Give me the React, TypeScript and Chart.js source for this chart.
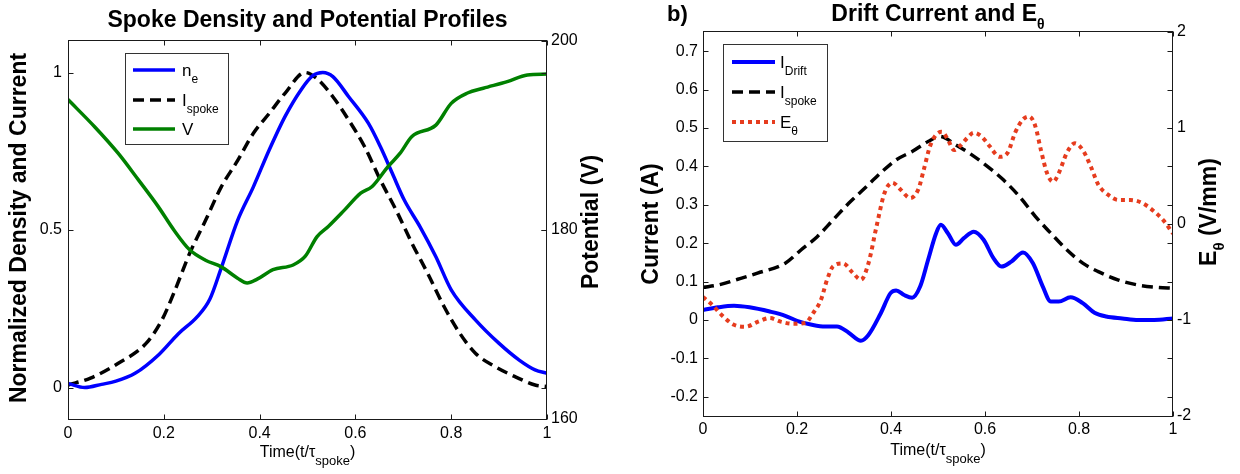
import React, { useEffect, useRef } from "react";
import { Chart, registerables } from "chart.js";

Chart.register(...registerables);

const FONT = "'Liberation Sans', Arial, Helvetica, sans-serif";
const AXIS = "#1a1a1a";
const BLUE = "#0000ff";
const BLACK = "#000000";
const GREEN = "#008000";
const RED = "#e63c1e";

// ---------- Panel a: Spoke Density and Potential Profiles ----------
const neTime = [0, 0.035, 0.07, 0.1, 0.14, 0.19, 0.23, 0.27, 0.296, 0.32, 0.354, 0.387, 0.42, 0.453, 0.486, 0.511, 0.532, 0.553, 0.586, 0.627, 0.652, 0.677, 0.702, 0.735, 0.768, 0.8, 0.851, 0.9, 0.942, 0.975, 1];
const neValues = [0.013, 0.0, 0.01, 0.02, 0.045, 0.105, 0.17, 0.225, 0.28, 0.38, 0.53, 0.637, 0.754, 0.86, 0.944, 0.99, 1.0, 0.987, 0.923, 0.839, 0.765, 0.68, 0.595, 0.51, 0.415, 0.31, 0.214, 0.14, 0.087, 0.056, 0.045];

const spokeTimeA = [0, 0.047, 0.105, 0.163, 0.196, 0.221, 0.254, 0.287, 0.32, 0.354, 0.387, 0.42, 0.453, 0.495, 0.52, 0.553, 0.586, 0.619, 0.652, 0.685, 0.718, 0.751, 0.785, 0.818, 0.851, 0.892, 0.934, 0.975, 1];
const spokeValuesA = [0.008, 0.03, 0.077, 0.14, 0.214, 0.3, 0.426, 0.53, 0.637, 0.72, 0.807, 0.87, 0.934, 1.0, 0.98, 0.923, 0.849, 0.765, 0.659, 0.563, 0.458, 0.362, 0.257, 0.172, 0.108, 0.066, 0.034, 0.008, 0.003];

const potentialTime = [0, 0.056, 0.105, 0.147, 0.188, 0.221, 0.254, 0.287, 0.32, 0.354, 0.374, 0.395, 0.428, 0.47, 0.495, 0.52, 0.544, 0.577, 0.611, 0.635, 0.668, 0.693, 0.718, 0.768, 0.8, 0.834, 0.867, 0.917, 0.959, 1];
const potentialValues = [193.8, 190.9, 188.1, 185.3, 182.5, 180.0, 177.9, 176.8, 176.1, 174.9, 174.4, 174.8, 175.8, 176.3, 177.2, 179.3, 180.4, 182.1, 183.9, 184.6, 186.7, 188.1, 189.9, 191.1, 193.4, 194.5, 195.0, 195.7, 196.4, 196.5];

// ---------- Panel b: Drift Current and E_theta ----------
const driftTime = [0, 0.032, 0.066, 0.099, 0.142, 0.175, 0.2, 0.234, 0.26, 0.285, 0.31, 0.336, 0.352, 0.378, 0.399, 0.411, 0.428, 0.445, 0.462, 0.479, 0.496, 0.506, 0.521, 0.538, 0.555, 0.576, 0.597, 0.618, 0.635, 0.656, 0.681, 0.702, 0.723, 0.74, 0.757, 0.782, 0.808, 0.833, 0.858, 0.892, 0.926, 0.96, 1];
const driftValues = [0.026, 0.033, 0.037, 0.033, 0.022, 0.011, -0.002, -0.013, -0.017, -0.017, -0.033, -0.054, -0.039, 0.017, 0.07, 0.077, 0.065, 0.058, 0.087, 0.157, 0.226, 0.248, 0.226, 0.196, 0.213, 0.23, 0.209, 0.161, 0.139, 0.152, 0.176, 0.148, 0.087, 0.048, 0.048, 0.059, 0.044, 0.019, 0.009, 0.004, 0.0, 0.0, 0.004];

const spokeTimeB = [0, 0.032, 0.074, 0.116, 0.175, 0.209, 0.243, 0.277, 0.31, 0.344, 0.378, 0.411, 0.445, 0.479, 0.504, 0.538, 0.572, 0.605, 0.639, 0.673, 0.707, 0.74, 0.774, 0.808, 0.841, 0.884, 0.926, 0.968, 1];
const spokeValuesB = [0.085, 0.091, 0.106, 0.122, 0.148, 0.183, 0.217, 0.261, 0.304, 0.343, 0.383, 0.417, 0.439, 0.465, 0.478, 0.456, 0.43, 0.4, 0.365, 0.322, 0.27, 0.226, 0.183, 0.148, 0.126, 0.104, 0.091, 0.085, 0.083];

const fieldTime = [0, 0.019, 0.04, 0.066, 0.091, 0.116, 0.142, 0.167, 0.192, 0.218, 0.234, 0.251, 0.264, 0.277, 0.298, 0.319, 0.336, 0.352, 0.369, 0.386, 0.403, 0.42, 0.441, 0.458, 0.47, 0.483, 0.496, 0.508, 0.521, 0.534, 0.546, 0.563, 0.576, 0.593, 0.61, 0.631, 0.648, 0.664, 0.681, 0.694, 0.707, 0.719, 0.732, 0.745, 0.757, 0.774, 0.791, 0.808, 0.825, 0.841, 0.863, 0.884, 0.909, 0.934, 0.96, 0.981, 1];
const fieldValues = [-0.76, -0.84, -0.95, -1.05, -1.07, -1.02, -0.98, -1.02, -1.04, -1.03, -0.93, -0.79, -0.58, -0.44, -0.41, -0.51, -0.58, -0.41, -0.03, 0.32, 0.43, 0.36, 0.27, 0.36, 0.57, 0.81, 0.93, 0.96, 0.88, 0.77, 0.81, 0.9, 0.95, 0.91, 0.81, 0.7, 0.74, 0.95, 1.09, 1.12, 1.02, 0.77, 0.53, 0.44, 0.53, 0.74, 0.84, 0.77, 0.6, 0.41, 0.3, 0.25, 0.25, 0.22, 0.13, 0.03, -0.1];

// ---------- Tick labels ----------
const timeTicks = [0, 0.2, 0.4, 0.6, 0.8, 1];
const densityTicks = [0, 0.5, 1];
const potentialTicks = [160, 180, 200];
const currentTicks = [-0.2, -0.1, 0, 0.1, 0.2, 0.3, 0.4, 0.5, 0.6, 0.7];
const fieldTicks = [-2, -1, 0, 1, 2];

const toPoints = (ts: number[], vs: number[]) => ts.map((t, i) => ({ x: t, y: vs[i] }));

type Part = { t: string; sub?: boolean };
type RichOpts = { size: number; subSize: number; subDy: number; weight?: string; align?: "left" | "center" };

function drawRich(ctx: CanvasRenderingContext2D, parts: Part[], x: number, y: number, o: RichOpts) {
  const w = o.weight || "normal";
  const fontOf = (p: Part) => `${w} ${p.sub ? o.subSize : o.size}px ${FONT}`;
  let total = 0;
  for (const p of parts) {
    ctx.font = fontOf(p);
    total += ctx.measureText(p.t).width;
  }
  let cx = o.align === "center" ? x - total / 2 : x;
  ctx.textAlign = "left";
  ctx.textBaseline = "alphabetic";
  ctx.fillStyle = "#000";
  for (const p of parts) {
    ctx.font = fontOf(p);
    ctx.fillText(p.t, cx, y + (p.sub ? o.subDy : 0));
    cx += ctx.measureText(p.t).width;
  }
}

function drawVertical(ctx: CanvasRenderingContext2D, parts: Part[], baselineX: number, cy: number, o: RichOpts) {
  ctx.save();
  ctx.translate(baselineX, cy);
  ctx.rotate(-Math.PI / 2);
  drawRich(ctx, parts, 0, 0, { ...o, align: "center" });
  ctx.restore();
}

type LegendRow = { y: number; color: string; dash: number[]; width: number; parts: Part[] };
type Deco = {
  title: Part[];
  titleY: number;
  tag?: { t: string; x: number; y: number };
  xLabelY: number;
  leftLabel: Part[];
  leftLabelX: number;
  leftLabelY: number;
  rightLabel: Part[];
  rightLabelX: number;
  rightLabelY: number;
  legendBox: [number, number, number, number];
  legendLine: [number, number];
  legendTextX: number;
  legendRows: LegendRow[];
  leftTicks: number[];
  rightTicks: number[];
};

function decoPlugin(d: Deco) {
  return {
    id: "deco",
    afterDraw(chart: any) {
      const ctx: CanvasRenderingContext2D = chart.ctx;
      const a = chart.chartArea;
      const xs = chart.scales.x;
      const ys = chart.scales.y;
      const y2 = chart.scales.y2;
      const L = a.left + 0.5;
      const R = a.right - 0.5;
      const T = a.top - 0.5;
      const B = a.bottom + 0.5;
      ctx.save();
      // box and inward ticks
      ctx.strokeStyle = AXIS;
      ctx.lineWidth = 1;
      ctx.setLineDash([]);
      ctx.beginPath();
      for (const v of timeTicks) {
        const px = Math.round(xs.getPixelForValue(v)) + 0.5;
        ctx.moveTo(px, B);
        ctx.lineTo(px, B - 5);
        ctx.moveTo(px, T);
        ctx.lineTo(px, T + 5);
      }
      for (const v of d.leftTicks) {
        const py = Math.round(ys.getPixelForValue(v)) + 0.5;
        ctx.moveTo(L, py);
        ctx.lineTo(L + 5, py);
        ctx.moveTo(R, py);
        ctx.lineTo(R - 5, py);
      }
      for (const v of d.rightTicks) {
        const py = Math.round(y2.getPixelForValue(v)) + 0.5;
        ctx.moveTo(R, py);
        ctx.lineTo(R - 5, py);
      }
      ctx.stroke();
      ctx.strokeRect(L, T, R - L, B - T);

      // legend
      const [bx1, by1, bx2, by2] = d.legendBox;
      ctx.fillStyle = "#fff";
      ctx.fillRect(bx1, by1, bx2 - bx1, by2 - by1);
      ctx.strokeStyle = "#333";
      ctx.lineWidth = 1;
      ctx.strokeRect(bx1 + 0.5, by1 + 0.5, bx2 - bx1, by2 - by1);
      for (const row of d.legendRows) {
        ctx.beginPath();
        ctx.setLineDash(row.dash);
        ctx.lineWidth = row.width;
        ctx.strokeStyle = row.color;
        ctx.lineCap = "butt";
        ctx.moveTo(d.legendLine[0], row.y);
        ctx.lineTo(d.legendLine[1], row.y);
        ctx.stroke();
        ctx.setLineDash([]);
        drawRich(ctx, row.parts, d.legendTextX, row.y + 6, { size: 17, subSize: 12, subDy: 7 });
      }

      // titles and labels
      drawRich(ctx, d.title, (a.left + a.right) / 2, d.titleY, { size: 23, subSize: 14, subDy: 8, weight: "bold", align: "center" });
      if (d.tag) drawRich(ctx, [{ t: d.tag.t }], d.tag.x, d.tag.y, { size: 22, subSize: 14, subDy: 8, weight: "bold" });
      drawRich(ctx, [{ t: "Time(t/τ" }, { t: "spoke", sub: true }, { t: ")" }], (a.left + a.right) / 2, d.xLabelY, { size: 16, subSize: 13, subDy: 8, align: "center" });
      drawVertical(ctx, d.leftLabel, d.leftLabelX, d.leftLabelY, { size: 23, subSize: 15, subDy: 8, weight: "bold" });
      drawVertical(ctx, d.rightLabel, d.rightLabelX, d.rightLabelY, { size: 23, subSize: 15, subDy: 8, weight: "bold" });
      ctx.restore();
    },
  };
}

function axisOpts(pos: "left" | "right" | "bottom", min: number, max: number, ticks: number[], size: number, pad: number) {
  return {
    type: "linear" as const,
    position: pos,
    min,
    max,
    afterFit: (s: any) => {
      if (pos === "bottom") s.height = size;
      else s.width = size;
    },
    afterBuildTicks: (s: any) => {
      s.ticks = ticks.map((v) => ({ value: v }));
    },
    ticks: {
      autoSkip: false,
      maxRotation: 0,
      minRotation: 0,
      padding: pad,
      color: "#000",
      font: { family: FONT, size: 16 },
      callback: (v: any) => String(v),
    },
    grid: { display: false, drawTicks: false, drawOnChartArea: false },
    border: { display: false },
  };
}

function line(data: { x: number; y: number }[], color: string, width: number, dash: number[], axis: string) {
  return {
    data,
    borderColor: color,
    backgroundColor: color,
    borderWidth: width,
    borderDash: dash,
    pointRadius: 0,
    fill: false,
    cubicInterpolationMode: "monotone" as const,
    yAxisID: axis,
  };
}

export default function App() {
  const leftRef = useRef<HTMLCanvasElement>(null);
  const rightRef = useRef<HTMLCanvasElement>(null);

  useEffect(() => {
    const common = {
      animation: false as const,
      responsive: false,
      maintainAspectRatio: false,
      plugins: { legend: { display: false }, tooltip: { enabled: false }, title: { display: false } },
      events: [] as any[],
    };

    const left = new Chart(leftRef.current!, {
      type: "line",
      data: {
        datasets: [
          line(toPoints(potentialTime, potentialValues), GREEN, 3.5, [], "y2"),
          line(toPoints(neTime, neValues), BLUE, 3.5, [], "y"),
          line(toPoints(spokeTimeA, spokeValuesA), BLACK, 3.5, [11, 6], "y"),
        ],
      },
      options: {
        ...common,
        layout: { padding: { top: 41, left: 0, right: 0, bottom: 0 } },
        scales: {
          x: axisOpts("bottom", 0, 1, timeTicks, 55, 5),
          y: axisOpts("left", -0.1, 1.1, densityTicks, 68, 6),
          y2: axisOpts("right", 160, 200, potentialTicks, 73, 4),
        },
      } as any,
      plugins: [
        decoPlugin({
          title: [{ t: "Spoke Density and Potential Profiles" }],
          titleY: 27,
          xLabelY: 456.5,
          leftLabel: [{ t: "Normalized Density and Current" }],
          leftLabelX: 26,
          leftLabelY: 228,
          rightLabel: [{ t: "Potential (V)" }],
          rightLabelX: 598,
          rightLabelY: 222,
          legendBox: [125, 53, 228, 144],
          legendLine: [133, 175],
          legendTextX: 182,
          legendRows: [
            { y: 70, color: BLUE, dash: [], width: 3.5, parts: [{ t: "n" }, { t: "e", sub: true }] },
            { y: 100, color: BLACK, dash: [11, 6], width: 3.5, parts: [{ t: "I" }, { t: "spoke", sub: true }] },
            { y: 129, color: GREEN, dash: [], width: 3.5, parts: [{ t: "V" }] },
          ],
          leftTicks: densityTicks,
          rightTicks: potentialTicks,
        }),
      ],
    });

    const right = new Chart(rightRef.current!, {
      type: "line",
      data: {
        datasets: [
          line(toPoints(fieldTime, fieldValues), RED, 4, [4, 4], "y2"),
          line(toPoints(driftTime, driftValues), BLUE, 4, [], "y"),
          line(toPoints(spokeTimeB, spokeValuesB), BLACK, 3.5, [11, 6], "y"),
        ],
      },
      options: {
        ...common,
        layout: { padding: { top: 32, left: 0, right: 0, bottom: 0 } },
        scales: {
          x: axisOpts("bottom", 0, 1, timeTicks, 58, 4),
          y: axisOpts("left", -0.25, 0.75, currentTicks, 83, 5),
          y2: axisOpts("right", -2, 2, fieldTicks, 67, 4),
        },
      } as any,
      plugins: [
        decoPlugin({
          title: [{ t: "Drift Current and E" }, { t: "θ", sub: true }],
          titleY: 21,
          tag: { t: "b)", x: 47, y: 21 },
          xLabelY: 455,
          leftLabel: [{ t: "Current (A)" }],
          leftLabelX: 38,
          leftLabelY: 224,
          rightLabel: [{ t: "E" }, { t: "θ", sub: true }, { t: " (V/mm)" }],
          rightLabelX: 596,
          rightLabelY: 212,
          legendBox: [103, 44, 207, 141],
          legendLine: [112, 155],
          legendTextX: 160,
          legendRows: [
            { y: 62, color: BLUE, dash: [], width: 4, parts: [{ t: "I" }, { t: "Drift", sub: true }] },
            { y: 92, color: BLACK, dash: [11, 6], width: 3.5, parts: [{ t: "I" }, { t: "spoke", sub: true }] },
            { y: 122, color: RED, dash: [4, 4], width: 4, parts: [{ t: "E" }, { t: "θ", sub: true }] },
          ],
          leftTicks: currentTicks,
          rightTicks: fieldTicks,
        }),
      ],
    });

    return () => {
      left.destroy();
      right.destroy();
    };
  }, []);

  return (
    <div style={{ position: "absolute", left: 0, top: 0, width: 1240, height: 474, background: "#fff", overflow: "hidden" }}>
      <canvas ref={leftRef} width={620} height={474} style={{ position: "absolute", left: 0, top: 0 }} />
      <canvas ref={rightRef} width={620} height={474} style={{ position: "absolute", left: 620, top: 0 }} />
    </div>
  );
}
